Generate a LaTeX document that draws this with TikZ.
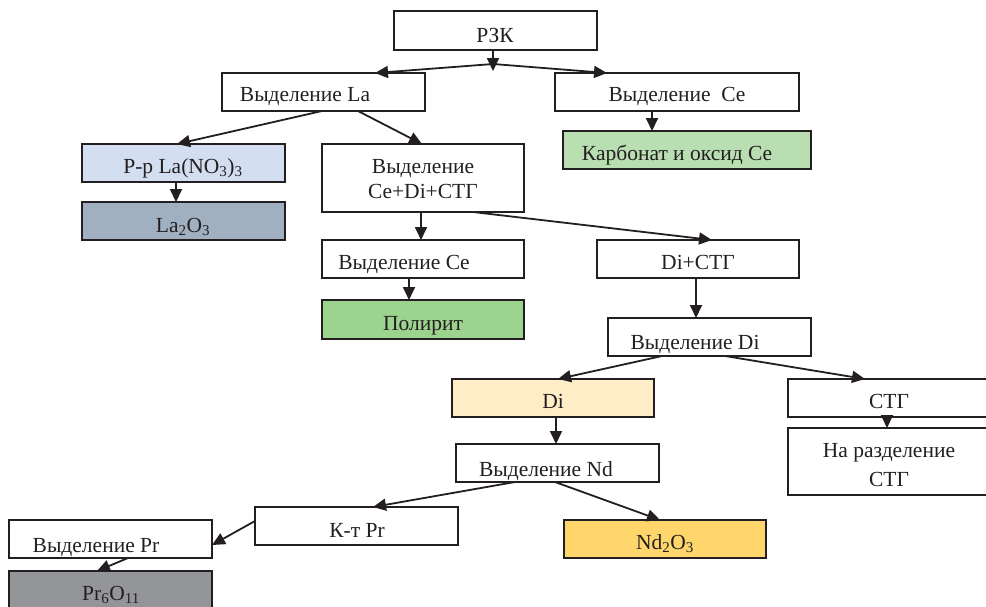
\documentclass[tikz,border=0pt]{standalone}
\usepackage{fontspec}
\setmainfont{Liberation Serif}
\usetikzlibrary{arrows.meta}
\definecolor{lc}{HTML}{231F20}
\definecolor{cRr}{HTML}{D3DEF0}
\definecolor{cLa}{HTML}{A1B0C0}
\definecolor{cKarb}{HTML}{B9DEB1}
\definecolor{cPol}{HTML}{9CD38F}
\definecolor{cDi}{HTML}{FFEDC8}
\definecolor{cNd}{HTML}{FFD66B}
\definecolor{cPr}{HTML}{939598}
\newcommand\fs{\fontsize{21.5}{25}\selectfont}
\tikzset{
  bx/.style={draw=lc, line width=2pt, rectangle, inner sep=0pt, outer sep=0pt, anchor=north west},
  tx/.style={anchor=base, inner sep=0pt, font=\fs, text=lc},
  ar/.style={draw=lc, line width=1.8pt, -{Triangle[length=13pt,width=12pt]}},
}
\begin{document}
\begin{tikzpicture}[x=1pt,y=-1pt]
\useasboundingbox (0,0) rectangle (986,606);
% boxes
\node[bx, minimum width=203pt, minimum height=39pt] (rzk) at (394,11) {};
\node[bx, minimum width=203pt, minimum height=38pt] (la) at (222,73) {};
\node[bx, minimum width=244pt, minimum height=38pt] (vce) at (555,73) {};
\node[bx, fill=cKarb, minimum width=248pt, minimum height=38pt] (karb) at (563,131) {};
\node[bx, fill=cRr, minimum width=203pt, minimum height=38pt] (rr) at (82,144) {};
\node[bx, fill=cLa, minimum width=203pt, minimum height=38pt] (la2) at (82,202) {};
\node[bx, minimum width=202pt, minimum height=68pt] (cdt) at (322,144) {};
\node[bx, minimum width=202pt, minimum height=38pt] (vce2) at (322,240) {};
\node[bx, fill=cPol, minimum width=202pt, minimum height=39pt] (pol) at (322,300) {};
\node[bx, minimum width=202pt, minimum height=38pt] (dst) at (597,240) {};
\node[bx, minimum width=203pt, minimum height=38pt] (vdi) at (608,318) {};
\node[bx, fill=cDi, minimum width=202pt, minimum height=38pt] (di) at (452,379) {};
\node[bx, minimum width=212pt, minimum height=38pt] (stg) at (788,379) {};
\node[bx, minimum width=212pt, minimum height=67pt] (nar) at (788,428) {};
\node[bx, minimum width=203pt, minimum height=38pt] (vnd) at (456,444) {};
\node[bx, fill=cNd, minimum width=202pt, minimum height=38pt] (nd) at (564,520) {};
\node[bx, minimum width=203pt, minimum height=38pt] (kpr) at (255,507) {};
\node[bx, minimum width=203pt, minimum height=38pt] (vpr) at (9,520) {};
\node[bx, fill=cPr, minimum width=203pt, minimum height=50pt] (pr) at (9,571) {};
% texts
\node[tx] (trzk) at (495,42) {РЗК};
\node[tx] (tla) at (305,101) {Выделение La};
\node[tx] (tvce) at (677,101) {Выделение~~Ce};
\node[tx] (tkarb) at (677,160) {Карбонат и оксид Ce};
\node[tx] (trr) at (183,173) {Р-р La(NO\textsubscript{3})\textsubscript{3}};
\node[tx] (tla2) at (183,232) {La\textsubscript{2}O\textsubscript{3}};
\node[tx] (tcdt1) at (423,173) {Выделение};
\node[tx] (tcdt2) at (423,198) {Ce+Di+СТГ};
\node[tx] (tvce2) at (404,269) {Выделение Ce};
\node[tx] (tpol) at (423,330) {Полирит};
\node[tx] (tdst) at (698,269) {Di+СТГ};
\node[tx] (tvdi) at (695,349) {Выделение Di};
\node[tx] (tdi) at (553,408) {Di};
\node[tx] (tstg) at (889,408) {СТГ};
\node[tx] (tnar1) at (889,457) {На разделение};
\node[tx] (tnar2) at (889,486) {СТГ};
\node[tx] (tvnd) at (546,476) {Выделение Nd};
\node[tx] (tnd) at (665,549) {Nd\textsubscript{2}O\textsubscript{3}};
\node[tx] (tkpr) at (357,537) {К-т Pr};
\node[tx] (tvpr) at (96,552) {Выделение Pr};
\node[tx] (tpr) at (111,600) {Pr\textsubscript{6}O\textsubscript{11}};
% connectors
\coordinate (j1) at (493,64);
\coordinate (j1t) at (493,71);
\draw[ar] ([xshift=99pt]rzk.south west) -- (j1t);
\draw[ar] (j1) -- ([xshift=153pt]la.north west);
\draw[ar] (j1) -- ([xshift=52pt]vce.north west);
\draw[ar] ([xshift=100pt]la.south west) -- ([xshift=95pt]rr.north west);
\draw[ar] ([xshift=136pt]la.south west) -- ([xshift=100pt]cdt.north west);
\draw[ar] ([xshift=94pt]rr.south west) -- ([xshift=94pt]la2.north west);
\draw[ar] ([xshift=97pt]vce.south west) -- ([xshift=89pt]karb.north west);
\draw[ar] ([xshift=99pt]cdt.south west) -- ([xshift=99pt]vce2.north west);
\draw[ar] ([xshift=87pt]vce2.south west) -- ([xshift=87pt]pol.north west);
\draw[ar] ([xshift=151pt]cdt.south west) -- ([xshift=115pt]dst.north west);
\draw[ar] ([xshift=99pt]dst.south west) -- ([xshift=88pt]vdi.north west);
\draw[ar] ([xshift=54pt]vdi.south west) -- ([xshift=106pt]di.north west);
\draw[ar] ([xshift=117pt]vdi.south west) -- ([xshift=77pt]stg.north west);
\draw[ar] ([xshift=99pt]stg.south west) -- ([xshift=99pt]nar.north west);
\draw[ar] ([xshift=104pt]di.south west) -- ([xshift=100pt]vnd.north west);
\draw[ar] ([xshift=99pt]vnd.south west) -- ([xshift=96pt]nd.north west);
\draw[ar] ([xshift=59pt]vnd.south west) -- ([xshift=118pt]kpr.north west);
\draw[ar] ([yshift=5pt]kpr.west) -- ([yshift=-6pt]vpr.east);
\draw[ar] ([xshift=119pt]vpr.south west) -- ([xshift=88pt]pr.north west);
\end{tikzpicture}
\end{document}
